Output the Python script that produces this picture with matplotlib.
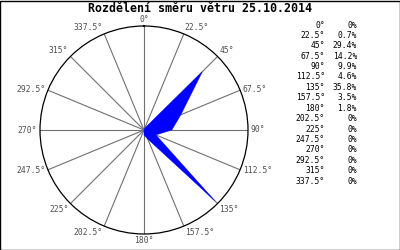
import numpy as np
import matplotlib
matplotlib.use('Agg')
import matplotlib.pyplot as plt

# wind direction distribution
directions = [0, 22.5, 45, 67.5, 90, 112.5, 135, 157.5,
              180, 202.5, 225, 247.5, 270, 292.5, 315, 337.5]
dir_labels = ['0°', '22.5°', '45°', '67.5°', '90°', '112.5°', '135°', '157.5°',
              '180°', '202.5°', '225°', '247.5°', '270°', '292.5°', '315°', '337.5°']
values = [0, 0.7, 29.4, 14.2, 9.9, 4.6, 35.8, 3.5,
          1.8, 0, 0, 0, 0, 0, 0, 0]
pct_labels = ['0%', '0.7%', '29.4%', '14.2%', '9.9%', '4.6%', '35.8%', '3.5%',
              '1.8%', '0%', '0%', '0%', '0%', '0%', '0%', '0%']
rmax = 37

font = 'DejaVu Sans Mono'

fig = plt.figure(figsize=(4, 2.5), dpi=100)
fig.patches.append(plt.Rectangle((0.0012, 0.002), 0.9976, 0.996, transform=fig.transFigure,
                                 fill=False, edgecolor='black', linewidth=1))

ax = fig.add_axes([0.1, 0.064, 0.52, 0.832], projection='polar')
ax.set_theta_zero_location('N')
ax.set_theta_direction(-1)
ax.set_ylim(0, rmax)

theta = np.radians(directions)
ax.fill(np.append(theta, theta[0]), np.append(values, values[0]),
        color='#0000ff', linewidth=0.3, edgecolor='#0000ff', zorder=3)

# spokes
for t in theta:
    ax.plot([t, t], [0, rmax], color='#707070', linewidth=0.8, zorder=2)

ax.grid(False)
ax.set_xticks(theta)
ax.set_xticklabels([])
ax.set_yticks([])
ax.spines['polar'].set_color('black')
ax.spines['polar'].set_linewidth(0.9)

for t, lab in zip(theta, dir_labels):
    s, c = np.sin(t), np.cos(t)
    ha = 'center' if abs(s) < 0.1 else ('left' if s > 0 else 'right')
    va = 'bottom' if c > 0.5 else ('top' if c < -0.5 else 'center')
    ax.annotate(lab, (t, rmax), xytext=(2 * s, 1.5 * c), textcoords='offset points',
                ha=ha, va=va, fontsize=5.8, family=font, color='#505050')

fig.text(0.5, 0.968, 'Rozdělení směru větru 25.10.2014', ha='center', va='center',
         fontsize=8.4, fontweight='bold', family=font)

# legend table
y0 = 1 - 25 / 250
dy = 10.4 / 250
for i, (d, p) in enumerate(zip(dir_labels, pct_labels)):
    y = y0 - i * dy
    fig.text(325 / 400, y, d, ha='right', va='center', fontsize=5.8, family=font)
    fig.text(357 / 400, y, p, ha='right', va='center', fontsize=5.8, family=font)

fig.savefig('out.png', dpi=100)
